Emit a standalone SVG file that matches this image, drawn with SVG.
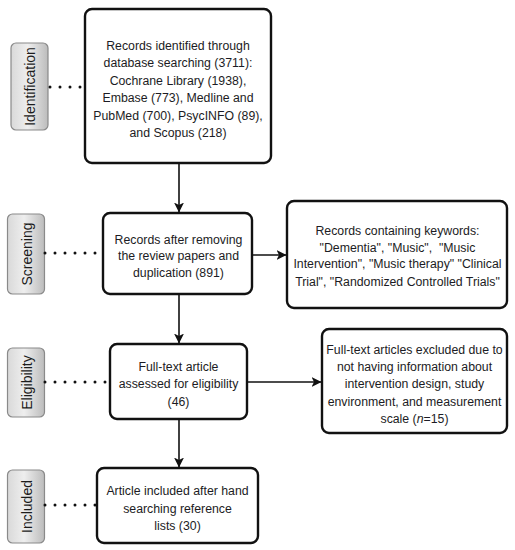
<svg xmlns="http://www.w3.org/2000/svg" width="515" height="550" viewBox="0 0 515 550">
<defs>
<linearGradient id="lg" x1="0" y1="0" x2="1" y2="0">
<stop offset="0" stop-color="#d9d9d9"/>
<stop offset="0.45" stop-color="#eeeeee"/>
<stop offset="1" stop-color="#bcbcbc"/>
</linearGradient>
<marker id="ah" viewBox="0 0 10 10" refX="10" refY="5" markerWidth="10" markerHeight="10" markerUnits="userSpaceOnUse" orient="auto">
<path d="M0,0 L10,5 L0,10 L2.5,5 Z" fill="#111"/>
</marker>
</defs>
<style>
.box{fill:#fff;stroke:#111;stroke-width:2.4}
.lab{fill:url(#lg);stroke:#8a8a8a;stroke-width:1.2}
.t{font-family:"Liberation Sans",Arial,sans-serif;font-size:12.3px;fill:#1c1c24;text-anchor:middle}
.lt{font-family:"Liberation Sans",Arial,sans-serif;font-size:14px;fill:#1c1c1c;text-anchor:middle;dominant-baseline:central}
.dot{stroke:#111;stroke-width:3;stroke-linecap:round;stroke-dasharray:0 10;fill:none}
.ar{stroke:#111;stroke-width:1.6;fill:none;marker-end:url(#ah)}
</style>

<g id="label-identification">
<rect class="lab" x="11" y="43" width="37" height="87" rx="5"/>
<text class="lt" transform="translate(30,86.5) rotate(-90)">Identification</text>
</g>
<g id="label-screening">
<rect class="lab" x="7.5" y="214" width="37" height="80" rx="5"/>
<text class="lt" transform="translate(26.5,254) rotate(-90)">Screening</text>
</g>
<g id="label-eligibility">
<rect class="lab" x="7.5" y="348" width="37" height="69" rx="5"/>
<text class="lt" transform="translate(26.5,382.5) rotate(-90)">Eligibility</text>
</g>
<g id="label-included">
<rect class="lab" x="7.5" y="470" width="37" height="73" rx="5"/>
<text class="lt" transform="translate(26.5,506.5) rotate(-90)">Included</text>
</g>

<g id="node-identified">
<rect class="box" x="85" y="9" width="186" height="154" rx="7"/>
<text class="t" x="178" y="49.5">Records identified through</text>
<text class="t" x="178" y="67">database searching (3711):</text>
<text class="t" x="178" y="84.5">Cochrane Library (1938),</text>
<text class="t" x="178" y="102">Embase (773), Medline and</text>
<text class="t" x="178" y="119.5">PubMed (700), PsycINFO (89),</text>
<text class="t" x="178" y="137">and Scopus (218)</text>
</g>

<g id="node-screened">
<rect class="box" x="103" y="213" width="149" height="81" rx="7"/>
<text class="t" x="178.5" y="243.7">Records after removing</text>
<text class="t" x="178.5" y="260.4">the review papers and</text>
<text class="t" x="178.5" y="277.2">duplication (891)</text>
</g>

<g id="node-keywords">
<rect class="box" x="287" y="201" width="220" height="107" rx="7"/>
<text class="t" x="397.5" y="235">Records containing keywords:</text>
<text class="t" x="397.5" y="251.7" xml:space="preserve">"Dementia", "Music",  "Music</text>
<text class="t" x="397.5" y="268.4">Intervention", "Music therapy" "Clinical</text>
<text class="t" x="397.5" y="285.5">Trial", "Randomized Controlled Trials"</text>
</g>

<g id="node-eligibility">
<rect class="box" x="110" y="344" width="137" height="75" rx="7"/>
<text class="t" x="178.5" y="371">Full-text article</text>
<text class="t" x="178.5" y="388.4">assessed for eligibility</text>
<text class="t" x="178.5" y="406">(46)</text>
</g>

<g id="node-excluded">
<rect class="box" x="322" y="329" width="185" height="104" rx="7"/>
<text class="t" x="414.5" y="353.7">Full-text articles excluded due to</text>
<text class="t" x="414.5" y="371">not having information about</text>
<text class="t" x="414.5" y="388.4">intervention design, study</text>
<text class="t" x="414.5" y="406">environment, and measurement</text>
<text class="t" x="414.5" y="423.4">scale (<tspan font-style="italic">n</tspan>=15)</text>
</g>

<g id="node-included">
<rect class="box" x="97" y="468" width="161" height="75" rx="7"/>
<text class="t" x="177.5" y="495">Article included after hand</text>
<text class="t" x="177.5" y="512.6">searching reference</text>
<text class="t" x="177.5" y="530.3">lists (30)</text>
</g>

<g id="connectors">
<line class="dot" x1="50" y1="87" x2="81" y2="87"/>
<line class="dot" x1="45" y1="253" x2="96" y2="253"/>
<line class="dot" x1="45" y1="382" x2="106" y2="382"/>
<line class="dot" x1="45" y1="505" x2="96" y2="505"/>
<line class="ar" x1="179" y1="163" x2="179" y2="212.5"/>
<line class="ar" x1="179" y1="294" x2="179" y2="343.5"/>
<line class="ar" x1="179" y1="419" x2="179" y2="467.5"/>
<line class="ar" x1="252" y1="255" x2="286.5" y2="255"/>
<line class="ar" x1="247" y1="382" x2="321.5" y2="382"/>
</g>
</svg>
